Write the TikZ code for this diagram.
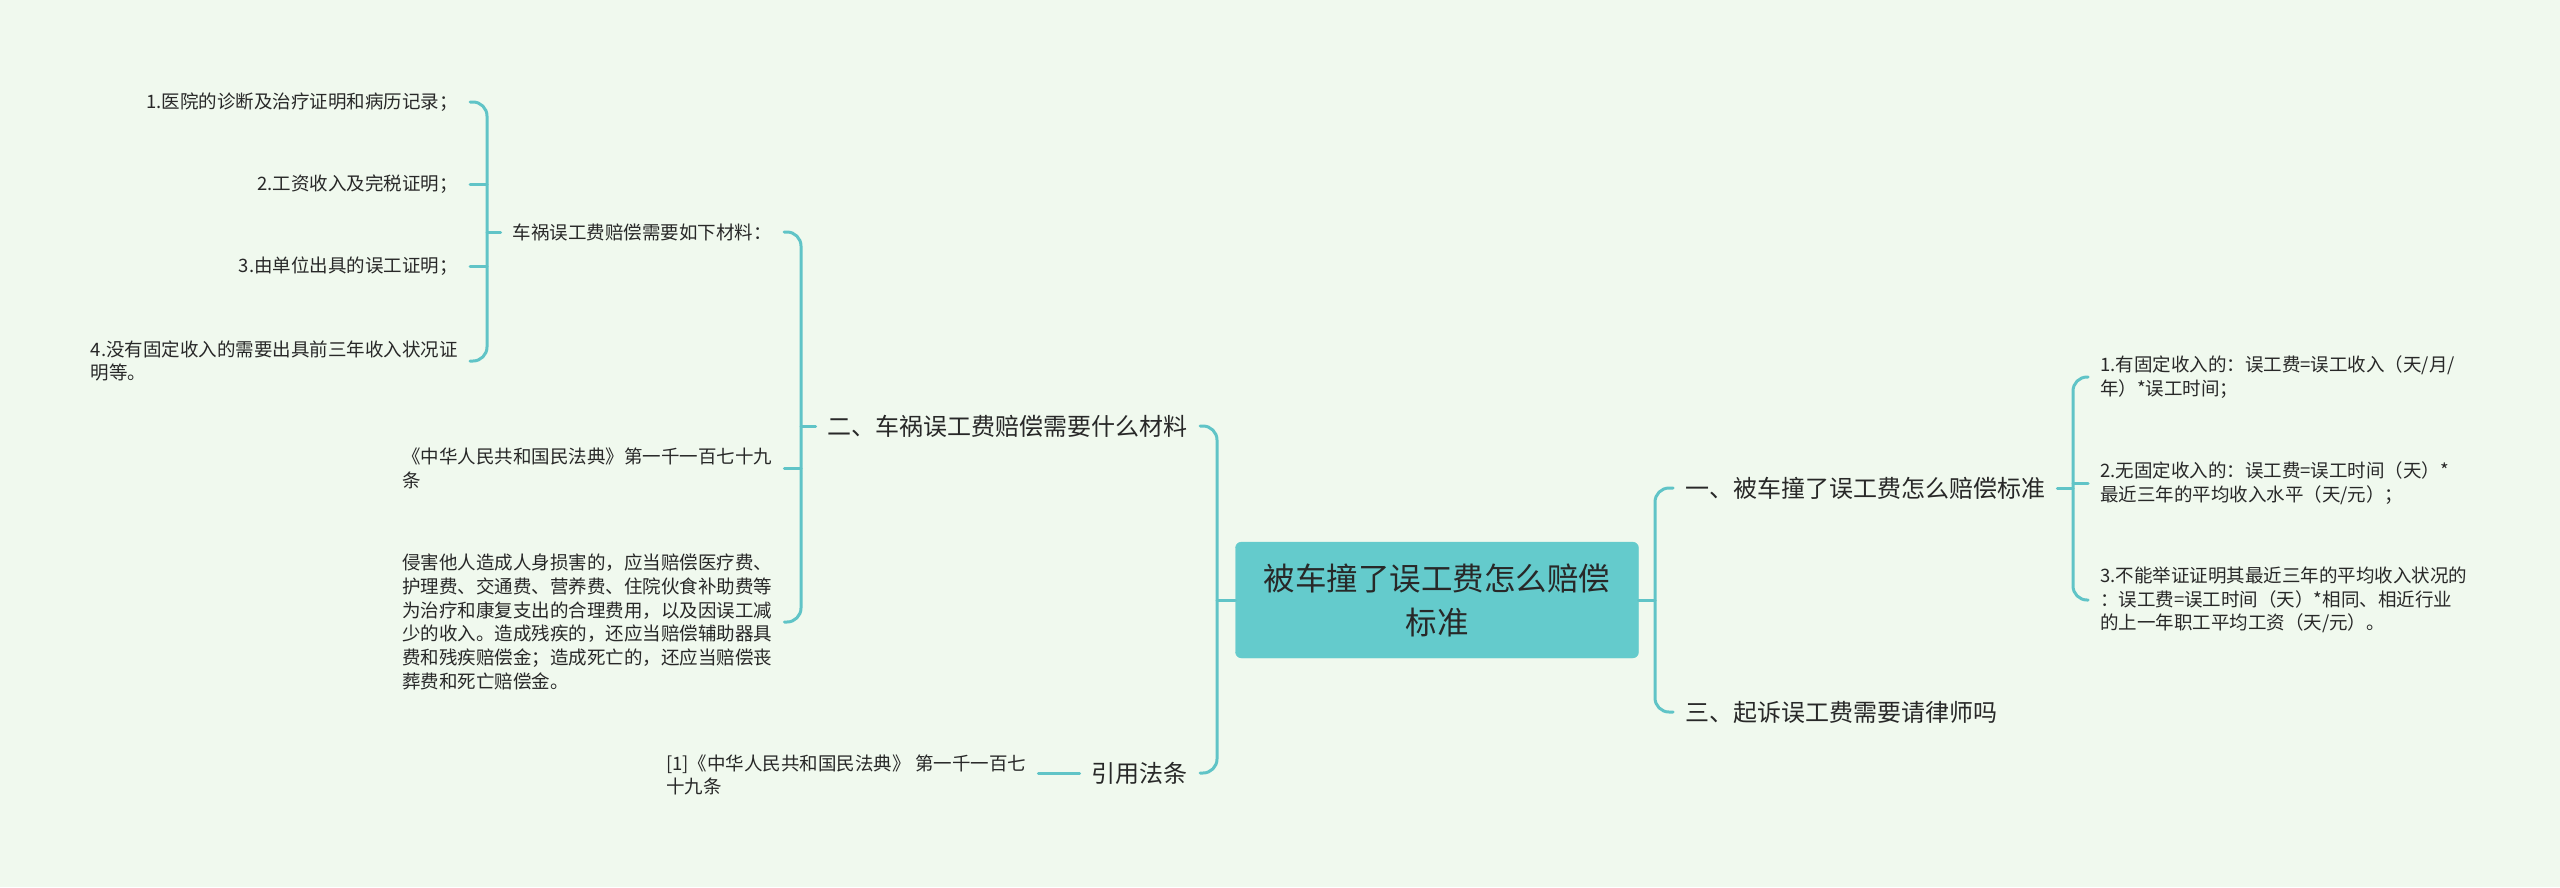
\documentclass[tikz,border=0pt]{standalone}
\usepackage{fontspec}
\setmainfont{Noto Sans CJK SC}
\definecolor{bgc}{RGB}{240,249,238}
\definecolor{linec}{RGB}{96,196,199}
\definecolor{rootc}{RGB}{100,203,204}
\definecolor{txt}{RGB}{40,40,40}
\begin{document}
\begin{tikzpicture}[x=1pt,y=-1pt,
  conn/.style={draw=linec, line width=3pt, rounded corners=14pt, line cap=round},
  leaf/.style={text=txt, inner xsep=12pt, inner ysep=0pt, align=left, font=\fontsize{18.5}{23.8}\selectfont},
  lvl/.style={text=txt, inner xsep=12pt, inner ysep=0pt, font=\fontsize{24}{30}\selectfont},
  rootn/.style={fill=rootc, draw=rootc, rounded corners=6pt, minimum width=403pt, minimum height=116pt, align=center, font=\fontsize{31.5}{44}\selectfont, text=txt}]
\fill[bgc] (0,0) rectangle (2560,887);
\useasboundingbox (0,0) rectangle (2560,887);

% root
\node[rootn] (root) at (1437,600) {被车撞了误工费怎么赔偿\\标准};

% level 1
\node[lvl, anchor=east] (n2) at (1200,426) {二、车祸误工费赔偿需要什么材料};
\node[lvl, anchor=east] (cite) at (1200,773) {引用法条};
\node[lvl, anchor=west] (r1) at (1673,488) {一、被车撞了误工费怎么赔偿标准};
\node[lvl, anchor=west] (r3) at (1673,712) {三、起诉误工费需要请律师吗};

% left leaves
\node[leaf, anchor=east] (mat) at (784,232) {车祸误工费赔偿需要如下材料：};
\node[leaf, anchor=west] (law) at (390,468) {《中华人民共和国民法典》第一千一百七十九\\条};
\node[leaf, anchor=west] (para) at (390,622) {侵害他人造成人身损害的，应当赔偿医疗费、\\护理费、交通费、营养费、住院伙食补助费等\\为治疗和康复支出的合理费用，以及因误工减\\少的收入。造成残疾的，还应当赔偿辅助器具\\费和残疾赔偿金；造成死亡的，还应当赔偿丧\\葬费和死亡赔偿金。};

\node[leaf, anchor=east] (m1) at (470,102) {1.医院的诊断及治疗证明和病历记录；};
\node[leaf, anchor=east] (m2) at (470,184) {2.工资收入及完税证明；};
\node[leaf, anchor=east] (m3) at (470,266) {3.由单位出具的误工证明；};
\node[leaf, anchor=east] (m4) at (470,361) {4.没有固定收入的需要出具前三年收入状况证\\明等。};

\node[leaf, anchor=west] (ref) at (654,775) {[1]《中华人民共和国民法典》 第一千一百七\\十九条};

% right leaves
\node[leaf, anchor=west] (c1) at (2088,377) {1.有固定收入的：误工费=误工收入（天/月/\\年）*误工时间；};
\node[leaf, anchor=west] (c2) at (2088,483) {2.无固定收入的：误工费=误工时间（天）*\\最近三年的平均收入水平（天/元）；};
\node[leaf, anchor=west] (c3) at (2088,600) {3.不能举证证明其最近三年的平均收入状况的\\：误工费=误工时间（天）*相同、相近行业\\的上一年职工平均工资（天/元）。};

% junction coordinates
\coordinate (tl) at (1217,600);
\coordinate (tr) at (1655,600);
\coordinate (v2) at (801,426);
\coordinate (v1) at (487,232);
\coordinate (v3) at (2073,488);

% connectors
\draw[conn] (root.west) -- (tl);
\draw[conn] (n2.east) -| (tl) |- (cite.east);
\draw[conn] (root.east) -- (tr);
\draw[conn] (r1.west) -| (tr) |- (r3.west);

\draw[conn] (n2.west) -- (v2);
\draw[conn] (mat.east) -| (v2) |- (para.east);
\draw[conn] (law.east) -- (law.east -| v2);

\draw[conn] (mat.west) -- (v1);
\draw[conn] (m1.east) -| (v1) |- (m4.east);
\draw[conn] (m2.east) -- (m2.east -| v1);
\draw[conn] (m3.east) -- (m3.east -| v1);

\draw[conn] (r1.east) -- (v3);
\draw[conn] (c1.west) -| (v3) |- (c3.west);
\draw[conn] (c2.west) -- (c2.west -| v3);

\draw[conn] (cite.west) -- (cite.west -| ref.east);
\end{tikzpicture}
\end{document}
